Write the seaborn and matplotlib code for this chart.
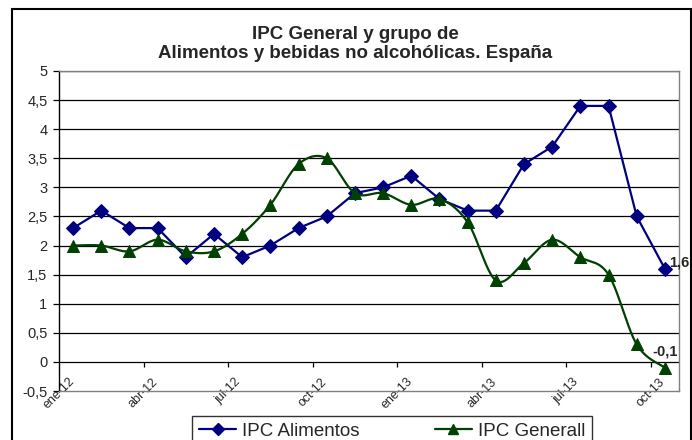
import numpy as np
import pandas as pd
import matplotlib
matplotlib.use("Agg")
import matplotlib.pyplot as plt
from matplotlib.lines import Line2D
from matplotlib.patches import Rectangle
from matplotlib.ticker import FuncFormatter
import seaborn as sns

months = ["ene-12", "feb-12", "mar-12", "abr-12", "may-12", "jun-12",
          "jul-12", "ago-12", "sep-12", "oct-12", "nov-12", "dic-12",
          "ene-13", "feb-13", "mar-13", "abr-13", "may-13", "jun-13",
          "jul-13", "ago-13", "sep-13", "oct-13"]
ipc_alimentos = [2.3, 2.6, 2.3, 2.3, 1.8, 2.2, 1.8, 2.0, 2.3, 2.5, 2.9, 3.0,
                 3.2, 2.8, 2.6, 2.6, 3.4, 3.7, 4.4, 4.4, 2.5, 1.6]
ipc_general = [2.0, 2.0, 1.9, 2.1, 1.9, 1.9, 2.2, 2.7, 3.4, 3.5, 2.9, 2.9,
               2.7, 2.8, 2.4, 1.4, 1.7, 2.1, 1.8, 1.5, 0.3, -0.1]
tick_labels = ["ene-12", "abr-12", "jul-12", "oct-12",
               "ene-13", "abr-13", "jul-13", "oct-13"]

BLUE = "#000080"
GREEN = "#004000"

sns.set_style("white")
plt.rcParams["font.family"] = ["Liberation Sans", "DejaVu Sans"]

df = pd.DataFrame({"mes": months, "pos": np.arange(len(months)) + 0.5,
                   "alimentos": ipc_alimentos, "general": ipc_general})


def smooth(x, y, n=24):
    # Excel-like smoothed line (Catmull-Rom as cubic bezier)
    x = np.asarray(x, float)
    y = np.asarray(y, float)
    px = np.concatenate([[x[0]], x, [x[-1]]])
    py = np.concatenate([[y[0]], y, [y[-1]]])
    t = np.linspace(0, 1, n, endpoint=False)[:, None]
    pts = []
    for i in range(1, len(px) - 2):
        p0 = np.array([px[i - 1], py[i - 1]])
        p1 = np.array([px[i], py[i]])
        p2 = np.array([px[i + 1], py[i + 1]])
        p3 = np.array([px[i + 2], py[i + 2]])
        c1 = p1 + (p2 - p0) / 6
        c2 = p2 - (p3 - p1) / 6
        b = ((1 - t) ** 3 * p1 + 3 * (1 - t) ** 2 * t * c1
             + 3 * (1 - t) * t ** 2 * c2 + t ** 3 * p2)
        pts.append(b)
    pts.append(np.array([[x[-1], y[-1]]]))
    pts = np.vstack(pts)
    return pd.DataFrame({"x": pts[:, 0], "y": pts[:, 1]})


fig = plt.figure(figsize=(6.92, 4.40), dpi=100)
ax = fig.add_axes([59 / 692, 1 - 391 / 440, 620 / 692, 320 / 440])

yticks = np.arange(-0.5, 5.01, 0.5)
ax.hlines(yticks[1:], 0, 22, color="black", lw=0.9, zorder=1)

sns.lineplot(data=df, x="pos", y="alimentos", ax=ax, color=BLUE, lw=1.6,
             marker="D", markersize=7, markeredgecolor=BLUE, zorder=3)
sm = smooth(df["pos"], df["general"])
sns.lineplot(data=sm, x="x", y="y", ax=ax, color=GREEN, lw=1.6, sort=False,
             estimator=None, zorder=3)
sns.scatterplot(data=df, x="pos", y="general", ax=ax, color=GREEN,
                marker="^", s=75, edgecolor=GREEN, zorder=4)

ax.set_xlim(0, 22)
ax.set_ylim(-0.5, 5)
ax.set_yticks(yticks)
ax.yaxis.set_major_formatter(FuncFormatter(lambda v, p: f"{v:g}".replace(".", ",")))
ax.set_xticks(np.arange(0, 22, 3))
ax.set_xticklabels(tick_labels, rotation=45, ha="center", va="top")
ax.vlines(np.arange(3, 22, 3), -0.09, 0, color="black", lw=0.9)
ax.tick_params(axis="x", length=0, pad=-11, labelsize=9)
ax.tick_params(axis="y", left=True, length=4.3, width=0.9, color="black",
               direction="out", pad=4, labelsize=10.5)
ax.set_xlabel("")
ax.set_ylabel("")

for s in ["top", "right", "bottom"]:
    ax.spines[s].set_color("#808080")
    ax.spines[s].set_linewidth(1)
ax.spines["left"].set_color("black")
ax.spines["left"].set_linewidth(1)

ax.annotate("1,6", (df["pos"].iloc[-1], ipc_alimentos[-1]), xytext=(3, 4.5),
            textcoords="offset points", ha="left", va="center",
            fontsize=10.5, fontweight="bold")
ax.annotate("-0,1", (df["pos"].iloc[-1], ipc_general[-1]), xytext=(0, 12),
            textcoords="offset points", ha="center", va="center",
            fontsize=10.5, fontweight="bold")

fig.text(355 / 692, 1 - 44 / 440,
         "IPC General y grupo de\nAlimentos y bebidas no alcohólicas. España",
         ha="center", va="center", fontsize=13.5, fontweight="bold",
         linespacing=1.15)

handles = [
    Line2D([], [], color=BLUE, lw=1.6, marker="D", markersize=6),
    Line2D([], [], color=GREEN, lw=1.6, marker="^", markersize=7),
]
leg = fig.legend(handles, ["IPC Alimentos", "IPC Generall"], ncol=2,
                 loc="upper center", bbox_to_anchor=(392 / 692, 1 - 416 / 440),
                 frameon=True, fancybox=False, fontsize=13.5, handlelength=2.0,
                 handletextpad=0.3, columnspacing=4.0, borderpad=0.35,
                 borderaxespad=0)
leg.get_frame().set_edgecolor("black")
leg.get_frame().set_linewidth(1)

fig.patches.append(Rectangle((12 / 692, -0.1), 679 / 692, 1.1 - 9 / 440,
                             transform=fig.transFigure, fill=False,
                             edgecolor="black", lw=1.5))

fig.savefig("out.png", dpi=100)
